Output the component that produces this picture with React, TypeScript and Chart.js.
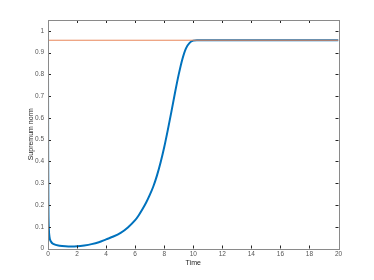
import React, { useEffect, useRef } from "react";
import { Chart, registerables } from "chart.js";

Chart.register(...registerables);

const times = [0, 0.01, 0.03, 0.06, 0.1, 0.2, 0.4, 0.8, 1.2, 1.6, 2, 2.5, 3, 3.5, 4, 4.5, 5, 5.5, 6, 6.25, 6.5, 6.75, 7, 7.25, 7.5, 7.75, 8, 8.25, 8.5, 8.75, 9, 9.25, 9.5, 9.75, 10, 10.25, 10.5, 11, 12, 14, 16, 18, 20];
const supNorm = [0.9, 0.45, 0.18, 0.09, 0.055, 0.032, 0.02, 0.013, 0.01, 0.009, 0.01, 0.014, 0.02, 0.029, 0.042, 0.055, 0.072, 0.097, 0.13, 0.153, 0.18, 0.21, 0.245, 0.285, 0.335, 0.395, 0.465, 0.545, 0.63, 0.718, 0.8, 0.87, 0.92, 0.945, 0.955, 0.957, 0.957, 0.957, 0.957, 0.957, 0.957, 0.957, 0.957];
const refTimes = [0, 20];
const refLevel = [0.957, 0.957];
const xTickValues = [0, 2, 4, 6, 8, 10, 12, 14, 16, 18, 20];
const yTickValues = [0, 0.1, 0.2, 0.3, 0.4, 0.5, 0.6, 0.7, 0.8, 0.9, 1];

const boxPlugin = {
  id: "matlabBox",
  afterDatasetsDraw(chart: any) {
    const { ctx, chartArea: a, scales } = chart;
    ctx.save();
    ctx.strokeStyle = "#262626";
    ctx.lineWidth = 1;
    const L = 3;
    ctx.beginPath();
    scales.x.ticks.forEach((t: any) => {
      const px = Math.round(scales.x.getPixelForValue(t.value)) + 0.5;
      ctx.moveTo(px, a.bottom);
      ctx.lineTo(px, a.bottom - L);
      ctx.moveTo(px, a.top);
      ctx.lineTo(px, a.top + L);
    });
    scales.y.ticks.forEach((t: any) => {
      const py = Math.round(scales.y.getPixelForValue(t.value)) + 0.5;
      ctx.moveTo(a.left, py);
      ctx.lineTo(a.left + L, py);
      ctx.moveTo(a.right, py);
      ctx.lineTo(a.right - L, py);
    });
    ctx.stroke();
    ctx.strokeStyle = "#8a8a8a";
    ctx.strokeRect(Math.round(a.left) + 0.5, Math.round(a.top) + 0.5, Math.round(a.right - a.left), Math.round(a.bottom - a.top));
    ctx.restore();
  },
};

export default function App() {
  const ref = useRef<HTMLCanvasElement>(null);
  useEffect(() => {
    document.body.style.margin = "0";
    const font = { family: "'Liberation Sans', Arial, sans-serif", size: 6.5 };
    const chart = new Chart(ref.current!, {
      type: "line",
      data: {
        datasets: [
          {
            data: refTimes.map((t, i) => ({ x: t, y: refLevel[i] })),
            borderColor: "#E8875A",
            borderWidth: 1,
            pointRadius: 0,
          },
          {
            data: times.map((t, i) => ({ x: t, y: supNorm[i] })),
            borderColor: "#0072BD",
            borderWidth: 2,
            pointRadius: 0,
            cubicInterpolationMode: "monotone",
          },
        ],
      },
      options: {
        responsive: false,
        animation: false,
        events: [],
        layout: { padding: { left: 0, top: 20, right: 35.5, bottom: 0 } },
        plugins: { legend: { display: false }, tooltip: { enabled: false } },
        scales: {
          x: {
            type: "linear",
            min: 0,
            max: 20,
            afterBuildTicks: (s: any) => { s.ticks = xTickValues.map((v) => ({ value: v })); },
            afterFit: (s: any) => { s.height = 31.5; },
            grid: { display: false, drawTicks: false },
            border: { display: false },
            ticks: { font, color: "#555", padding: 2, maxRotation: 0, autoSkip: false, callback: (v: any) => String(v) },
            title: { display: true, text: "Time", font: { ...font, size: 7 }, color: "#222", padding: { top: 0, bottom: 13 } },
          },
          y: {
            type: "linear",
            min: 0,
            max: 1.05,
            afterBuildTicks: (s: any) => { s.ticks = yTickValues.map((v) => ({ value: v })); },
            afterFit: (s: any) => { s.width = 48; },
            grid: { display: false, drawTicks: false },
            border: { display: false },
            ticks: { font, color: "#555", padding: 4, autoSkip: false, callback: (v: any) => String(v) },
            title: { display: true, text: "Supremum norm", font: { ...font, size: 7 }, color: "#222", padding: { top: 27, bottom: 0 } },
          },
        },
      },
      plugins: [boxPlugin],
    } as any);
    return () => chart.destroy();
  }, []);
  return (
    <div style={{ position: "fixed", left: 0, top: 0, width: 374, height: 280, background: "#fff" }}>
      <canvas ref={ref} width={374} height={280} />
    </div>
  );
}
